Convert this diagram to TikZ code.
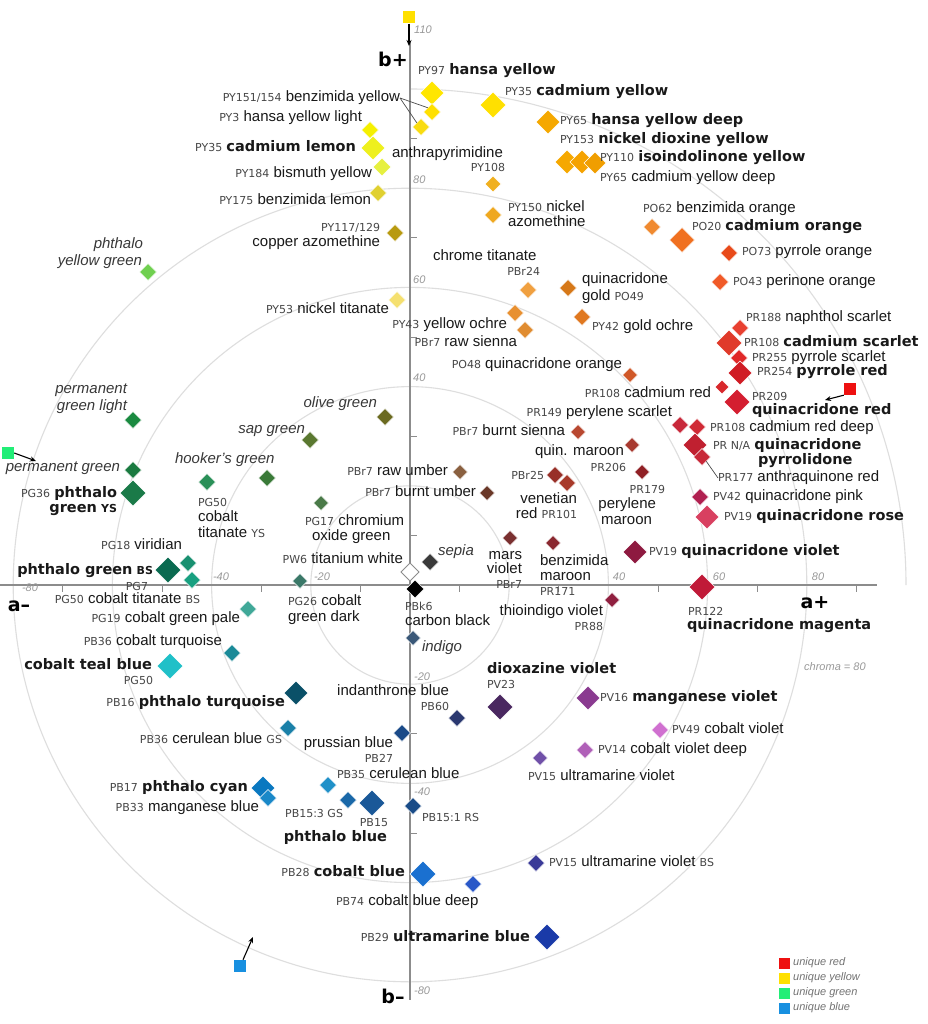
\documentclass[tikz,border=0pt]{standalone}
\usepackage{fontspec}
\setmainfont{Liberation Sans}
\newfontfamily\dvs{DejaVu Sans}
\usetikzlibrary{shapes.geometric,arrows.meta}
\newcommand\pcode[1]{{\dvs\fontsize{11}{12}\selectfont\color{black!72}#1}}
\newcommand\pbold[1]{{\dvs\bfseries\fontsize{14.5}{16}\selectfont #1}}
\newcommand\psmb[1]{{\dvs\bfseries\fontsize{11}{12}\selectfont #1}}
\newcommand\pdia[5]{\definecolor{c#1}{HTML}{#5}\node[dia, fill=c#1, minimum size=#4pt] (#1) at (#2,#3) {};}
\newcommand\plab[6][lab]{\node[#1, anchor=#5] (#2) at (#3,#4) {#6};}
\definecolor{uyel}{HTML}{FFE000}
\definecolor{ured}{HTML}{EE1010}
\definecolor{ugrn}{HTML}{22EE77}
\definecolor{ublu}{HTML}{1890E0}
\tikzset{
 dia/.style={diamond, shape aspect=1, inner sep=0pt, outer sep=0pt, draw=white, line width=0.5pt},
 lab/.style={inner sep=0pt, outer sep=0pt, text height=10.5pt, text depth=3pt, font=\fontsize{15}{17}\selectfont, text=black!90},
 ilab/.style={lab, font=\itshape\fontsize{15}{17}\selectfont, text=black!78},
 tlab/.style={inner sep=0pt, font=\itshape\fontsize{11}{12}\selectfont, text=black!40},
 axl/.style={inner sep=0pt, font=\dvs\bfseries\fontsize{19}{20}\selectfont},
 ring/.style={draw=black!13, line width=1.1pt},
 axisline/.style={draw=black!45, line width=1.2pt},
 tickmark/.style={draw=black!45, line width=1pt},
 leader/.style={draw=black!70, line width=0.7pt},
 uarrow/.style={draw=black, line width=1.1pt, -{Stealth[length=6pt,width=5pt]}},
 usq/.style={rectangle, inner sep=0pt, minimum size=12pt},
 lsq/.style={rectangle, inner sep=0pt, minimum size=11pt},
 leg/.style={inner sep=0pt, anchor=west, font=\itshape\fontsize{11}{12}\selectfont, text=black!55},
}
\begin{document}
\begin{tikzpicture}[x=1pt,y=-1pt]
\fill[white] (0,0) rectangle (927,1024);
\useasboundingbox (0,0) rectangle (927,1024);
% rings
\foreach \r in {99.2,198.4,297.6,396.8} \draw[ring] (410,585) circle[radius=\r];
\draw[ring] (906,585) arc[start angle=0, end angle=-90, radius=496];
% axes
\draw[axisline] (0,585) -- (877,585);
\draw[axisline] (410,42) -- (410,1000);
\foreach \k in {-7,-5,-3,-1,1,3,5,7,9} \draw[tickmark] ({410+4.96*\k*10},585) -- ++(0,7);
\foreach \k in {-7,-5,-3,-1,1,3,5,7,9} \draw[tickmark] (410,{585-4.96*\k*10}) -- ++(7,0);
% tick labels
\node[tlab, anchor=west] (k110) at (414,30) {110};
\node[tlab, anchor=west] (k80) at (413,180) {80};
\node[tlab, anchor=west] (k60) at (413,280) {60};
\node[tlab, anchor=west] (k40) at (413,378) {40};
\node[tlab, anchor=west] (km20) at (414,677) {-20};
\node[tlab, anchor=west] (km40) at (414,792) {-40};
\node[tlab, anchor=west] (km80) at (414,991) {-80};
\node[tlab] (hm80) at (30,588) {-80};
\node[tlab] (hm40) at (221,577) {-40};
\node[tlab] (hm20) at (322,577) {-20};
\node[tlab] (h40) at (619,577) {40};
\node[tlab] (h60) at (719,577) {60};
\node[tlab] (h80) at (818,577) {80};
\node[tlab, anchor=west] (chroma) at (804,667) {chroma = 80};
% axis labels
\node[axl] (bplus) at (393,59) {b+};
\node[axl] (bminus) at (393,996) {b–};
\node[axl] (aplus) at (815,603) {a+};
\node[axl] (aminus) at (19,606) {a–};
% ---------- diamonds ----------
% yellows
\pdia{dPYa}{432}{93}{24}{FFE600}
\pdia{dPYb}{432}{112}{17}{FFE000}
\pdia{dPYc}{421}{127}{17}{F9DC10}
\pdia{dPYd}{493}{105}{26}{FFE000}
\pdia{dPYe}{548}{122}{24}{F5A800}
\pdia{dPYf}{567}{162}{24}{F6A800}
\pdia{dPYg}{582}{162}{24}{F5A200}
\pdia{dPYh}{595}{163}{22}{F09E00}
\pdia{dPYi}{370}{130}{17}{F5F000}
\pdia{dPYj}{373}{148}{24}{EEF01E}
\pdia{dPYk}{382}{167}{18}{E6F040}
\pdia{dPYl}{378}{193}{17}{E0D030}
\pdia{dPYm}{493}{184}{16}{F0B020}
\pdia{dPYn}{493}{215}{17}{EFA820}
\pdia{dPYo}{395}{233}{17}{B89A10}
% oranges
\pdia{dPOa}{652}{227}{17}{F08A30}
\pdia{dPOb}{682}{240}{25}{F07020}
\pdia{dPOc}{729}{253}{17}{E84A1A}
\pdia{dPOd}{720}{282}{17}{F05A28}
\pdia{dPBra}{528}{290}{17}{F0A040}
\pdia{dPOe}{568}{288}{17}{D67818}
\pdia{dPYp}{515}{313}{17}{E89030}
\pdia{dPBrb}{525}{330}{17}{E08C30}
\pdia{dPYq}{582}{317}{17}{E07820}
\pdia{dPYr}{397}{300}{17}{F5E070}
\pdia{dPOf}{630}{375}{15}{D05828}
% reds
\pdia{dPRa}{740}{328}{17}{E84030}
\pdia{dPRb}{729}{343}{26}{E03A2A}
\pdia{dPRc}{739}{358}{17}{E02828}
\pdia{dPRd}{740}{373}{24}{D01C24}
\pdia{dPRe}{722}{387}{14}{D8282C}
\pdia{dPRf}{737}{402}{26}{D41E30}
\pdia{dPRg}{680}{425}{17}{C8283A}
\pdia{dPRh}{697}{427}{17}{D02A35}
\pdia{dPRi}{695}{445}{24}{C02030}
\pdia{dPRq}{702}{457}{17}{C82838}
\pdia{dPVa}{700}{497}{17}{B02050}
\pdia{dPVb}{707}{517}{24}{D84060}
\pdia{dPVc}{635}{552}{24}{8E1A40}
\pdia{dPRj}{702}{587}{26}{C01A38}
% earths
\pdia{dOlive}{385}{417}{17}{6B6A20}
\pdia{dPBrc}{578}{432}{15}{B84830}
\pdia{dPRk}{632}{445}{15}{A83A30}
\pdia{dPRl}{642}{472}{15}{902025}
\pdia{dPBrd}{555}{475}{17}{983028}
\pdia{dPRm}{567}{483}{17}{A83A2A}
\pdia{dPBre}{460}{472}{15}{8A6040}
\pdia{dPBrf}{487}{493}{15}{6A3828}
\pdia{dPBrg}{510}{538}{15}{7A3030}
\pdia{dPRn}{553}{543}{15}{8A2830}
\pdia{dPRo}{612}{600}{15}{902040}
\pdia{dSepia}{430}{562}{17}{3A3A3A}
\node[dia, fill=white, draw=black!45, line width=0.8pt, minimum size=18pt] (dPW) at (410,572) {};
\pdia{dPBk}{415}{589}{18}{000000}
\pdia{dIndigo}{413}{638}{15}{3A5878}
% violets and blues
\pdia{dPVd}{500}{707}{26}{4A2860}
\pdia{dPBa}{457}{718}{17}{2A3870}
\pdia{dPBb}{402}{733}{17}{1A4A88}
\pdia{dPVe}{588}{698}{24}{8A3A90}
\pdia{dPVf}{585}{750}{17}{B060B8}
\pdia{dPVg}{660}{730}{17}{D070D0}
\pdia{dPVh}{540}{758}{15}{7050A8}
\pdia{dPBc}{263}{788}{24}{0A78C0}
\pdia{dPBd}{268}{798}{17}{1A88C8}
\pdia{dPBe}{328}{785}{17}{2090C8}
\pdia{dPBf}{348}{800}{17}{1A68A8}
\pdia{dPBg}{372}{803}{26}{1A5898}
\pdia{dPBh}{413}{806}{17}{1A4C88}
\pdia{dPBi}{423}{874}{26}{1A70D0}
\pdia{dPBj}{473}{884}{17}{2A58C8}
\pdia{dPVi}{536}{863}{17}{3A3A98}
\pdia{dPBz}{547}{937}{26}{1A3AA8}
% greens and teals
\pdia{dPGa}{188}{563}{17}{189070}
\pdia{dPGb}{168}{570}{26}{0A6A50}
\pdia{dPGc}{192}{580}{17}{18A080}
\pdia{dPGd}{248}{609}{17}{40A898}
\pdia{dPBl}{232}{653}{17}{1A8A98}
\pdia{dPGe}{170}{666}{26}{20C0C8}
\pdia{dPBm}{296}{693}{24}{0A5068}
\pdia{dPBn}{288}{728}{17}{1A80A8}
\pdia{dPGf}{148}{272}{17}{70D050}
\pdia{dPGg}{133}{420}{17}{1A8A40}
\pdia{dPGh}{133}{470}{17}{1A7A40}
\pdia{dPGi}{133}{493}{26}{1A7A48}
\pdia{dPGj}{267}{478}{17}{3A7A38}
\pdia{dPGk}{207}{482}{17}{2A9058}
\pdia{dPGl}{310}{440}{17}{5A7830}
\pdia{dPGm}{321}{503}{15}{4A7A48}
\pdia{dPGn}{300}{581}{15}{3A7868}
% ---------- labels ----------
\plab{tPY97}{418}{71}{west}{\pcode{PY97} \pbold{hansa yellow}}
\plab{tPY35}{505}{92}{west}{\pcode{PY35} \pbold{cadmium yellow}}
\plab{tPY65}{560}{121}{west}{\pcode{PY65} \pbold{hansa yellow deep}}
\plab{tPY153}{560}{140}{west}{\pcode{PY153} \pbold{nickel dioxine yellow}}
\plab{tPY110}{600}{158}{west}{\pcode{PY110} \pbold{isoindolinone yellow}}
\plab{tPY65b}{600}{178}{west}{\pcode{PY65} cadmium yellow deep}
\plab{tPY151}{400}{98}{east}{\pcode{PY151/154} benzimida yellow}
\plab{tPY3}{362}{118}{east}{\pcode{PY3} hansa yellow light}
\plab{tPY35b}{356}{148}{east}{\pcode{PY35} \pbold{cadmium lemon}}
\plab{tPY184}{372}{174}{east}{\pcode{PY184} bismuth yellow}
\plab{tPY175}{371}{201}{east}{\pcode{PY175} benzimida lemon}
\plab{tAnth}{392}{154}{west}{anthrapyrimidine}
\plab{tPY108}{505}{168}{east}{\pcode{PY108}}
\plab{tPY150}{508}{208}{west}{\pcode{PY150} nickel}
\plab{tPY150b}{508}{223}{west}{azomethine}
\plab{tPY117}{380}{228}{east}{\pcode{PY117/129}}
\plab{tPY117b}{380}{243}{east}{copper azomethine}
\plab[ilab]{tPGf}{143}{245}{east}{phthalo}
\plab[ilab]{tPGfb}{142}{262}{east}{yellow green}
\plab{tPO62}{643}{209}{west}{\pcode{PO62} benzimida orange}
\plab{tPO20}{692}{227}{west}{\pcode{PO20} \pbold{cadmium orange}}
\plab{tPO73}{742}{252}{west}{\pcode{PO73} pyrrole orange}
\plab{tPO43}{733}{282}{west}{\pcode{PO43} perinone orange}
\plab{tChr}{433}{257}{west}{chrome titanate}
\plab{tPBr24}{540}{272}{east}{\pcode{PBr24}}
\plab{tPO49}{582}{280}{west}{quinacridone}
\plab{tPO49b}{582}{297}{west}{gold \pcode{PO49}}
\plab{tPY53}{389}{310}{east}{\pcode{PY53} nickel titanate}
\plab{tPY43}{507}{325}{east}{\pcode{PY43} yellow ochre}
\plab{tPBr7a}{517}{343}{east}{\pcode{PBr7} raw sienna}
\plab{tPY42}{592}{327}{west}{\pcode{PY42} gold ochre}
\plab{tPR188}{746}{318}{west}{\pcode{PR188} naphthol scarlet}
\plab{tPR108a}{744}{343}{west}{\pcode{PR108} \pbold{cadmium scarlet}}
\plab{tPR255}{752}{358}{west}{\pcode{PR255} pyrrole scarlet}
\plab{tPR254}{757}{372}{west}{\pcode{PR254} \pbold{pyrrole red}}
\plab{tPR209}{752}{397}{west}{\pcode{PR209}}
\plab{tPR209b}{752}{411}{west}{\pbold{quinacridone red}}
\plab{tPO48}{622}{365}{east}{\pcode{PO48} quinacridone orange}
\plab{tPR108b}{711}{394}{east}{\pcode{PR108} cadmium red}
\plab{tPR149}{672}{413}{east}{\pcode{PR149} perylene scarlet}
\plab{tPR108c}{710}{428}{west}{\pcode{PR108} cadmium red deep}
\plab{tPRNA}{713}{446}{west}{\pcode{PR N/A} \pbold{quinacridone}}
\plab{tPRNAb}{758}{461}{west}{\pbold{pyrrolidone}}
\plab{tPR177}{718}{478}{west}{\pcode{PR177} anthraquinone red}
\plab{tPV42}{713}{497}{west}{\pcode{PV42} quinacridone pink}
\plab{tPV19a}{724}{517}{west}{\pcode{PV19} \pbold{quinacridone rose}}
\plab{tPV19b}{649}{552}{west}{\pcode{PV19} \pbold{quinacridone violet}}
\plab{tPR122}{688}{612}{west}{\pcode{PR122}}
\plab{tPR122b}{687}{626}{west}{\pbold{quinacridone magenta}}
\plab[ilab]{tOlive}{377}{404}{east}{olive green}
\plab[ilab]{tSap}{305}{430}{east}{sap green}
\plab[ilab]{tHook}{175}{460}{west}{hooker's green}
\plab[ilab]{tPGg}{127}{390}{east}{permanent}
\plab[ilab]{tPGgb}{127}{407}{east}{green light}
\plab[ilab]{tPGh}{120}{468}{east}{permanent green}
\plab{tPG36}{117}{494}{east}{\pcode{PG36} \pbold{phthalo}}
\plab{tPG36b}{117}{509}{east}{\pbold{green} \psmb{YS}}
\plab{tPG50a}{198}{503}{west}{\pcode{PG50}}
\plab{tPG50b}{198}{518}{west}{cobalt}
\plab{tPG50c}{198}{534}{west}{titanate \pcode{YS}}
\plab{tPG17}{305}{522}{west}{\pcode{PG17} chromium}
\plab{tPG17b}{312}{537}{west}{oxide green}
\plab{tPW6}{403}{560}{east}{\pcode{PW6} titanium white}
\plab{tPG26}{288}{602}{west}{\pcode{PG26} cobalt}
\plab{tPG26b}{288}{618}{west}{green dark}
\plab[ilab]{tSepia}{438}{552}{west}{sepia}
\plab{tPBk}{405}{607}{west}{\pcode{PBk6}}
\plab{tPBkb}{405}{622}{west}{carbon black}
\plab[ilab]{tIndigo}{422}{648}{west}{indigo}
\plab{tMars}{522}{556}{east}{mars}
\plab{tMarsb}{522}{570}{east}{violet}
\plab{tMarsc}{522}{585}{east}{\pcode{PBr7}}
\plab{tPR171}{540}{562}{west}{benzimida}
\plab{tPR171b}{540}{577}{west}{maroon}
\plab{tPR171c}{540}{592}{west}{\pcode{PR171}}
\plab{tPR88}{603}{612}{east}{thioindigo violet}
\plab{tPR88b}{603}{627}{east}{\pcode{PR88}}
\plab{tBS}{565}{432}{east}{\pcode{PBr7} burnt sienna}
\plab{tQM}{535}{452}{west}{quin. maroon}
\plab{tQMb}{626}{468}{east}{\pcode{PR206}}
\plab{tPR179}{665}{490}{east}{\pcode{PR179}}
\plab{tPR179b}{656}{505}{east}{perylene}
\plab{tPR179c}{652}{521}{east}{maroon}
\plab{tPBr25}{544}{476}{east}{\pcode{PBr25}}
\plab{tVen}{577}{500}{east}{venetian}
\plab{tVenb}{577}{515}{east}{red \pcode{PR101}}
\plab{tRU}{448}{472}{east}{\pcode{PBr7} raw umber}
\plab{tBU}{476}{493}{east}{\pcode{PBr7} burnt umber}
\plab{tPG18}{182}{546}{east}{\pcode{PG18} viridian}
\plab{tPG7a}{153}{571}{east}{\pbold{phthalo green} \psmb{BS}}
\plab{tPG7b}{148}{587}{east}{\pcode{PG7}}
\plab{tPG50d}{200}{600}{east}{\pcode{PG50} cobalt titanate \pcode{BS}}
\plab{tPG19}{240}{619}{east}{\pcode{PG19} cobalt green pale}
\plab{tPB36a}{222}{642}{east}{\pcode{PB36} cobalt turquoise}
\plab{tPG50e}{152}{666}{east}{\pbold{cobalt teal blue}}
\plab{tPG50f}{153}{681}{east}{\pcode{PG50}}
\plab{tPB16}{285}{703}{east}{\pcode{PB16} \pbold{phthalo turquoise}}
\plab{tPB36b}{282}{740}{east}{\pcode{PB36} cerulean blue \pcode{GS}}
\plab{tPB17}{248}{788}{east}{\pcode{PB17} \pbold{phthalo cyan}}
\plab{tPB33}{259}{808}{east}{\pcode{PB33} manganese blue}
\plab{tPB27}{393}{744}{east}{prussian blue}
\plab{tPB27b}{393}{759}{east}{\pcode{PB27}}
\plab{tPB35}{337}{775}{west}{\pcode{PB35} cerulean blue}
\plab{tPB153}{343}{814}{east}{\pcode{PB15:3 GS}}
\plab{tPB15}{388}{823}{east}{\pcode{PB15}}
\plab{tPB15b}{387}{838}{east}{\pbold{phthalo blue}}
\plab{tPB151}{422}{818}{west}{\pcode{PB15:1 RS}}
\plab{tPB60}{449}{692}{east}{indanthrone blue}
\plab{tPB60b}{449}{707}{east}{\pcode{PB60}}
\plab{tPV23}{487}{670}{west}{\pbold{dioxazine violet}}
\plab{tPV23b}{487}{685}{west}{\pcode{PV23}}
\plab{tPV16}{600}{698}{west}{\pcode{PV16} \pbold{manganese violet}}
\plab{tPV49}{672}{730}{west}{\pcode{PV49} cobalt violet}
\plab{tPV14}{598}{750}{west}{\pcode{PV14} cobalt violet deep}
\plab{tPV15}{528}{777}{west}{\pcode{PV15} ultramarine violet}
\plab{tPV15b}{549}{863}{west}{\pcode{PV15} ultramarine violet \pcode{BS}}
\plab{tPB28}{405}{873}{east}{\pcode{PB28} \pbold{cobalt blue}}
\plab{tPB74}{336}{902}{west}{\pcode{PB74} cobalt blue deep}
\plab{tPB29}{530}{938}{east}{\pcode{PB29} \pbold{ultramarine blue}}
% leaders
\draw[leader] (tPY151.east) -- (dPYb.north west);
\draw[leader] (tPY151.east) -- (dPYc.north west);
\draw[leader] (tPR177.west) -- (dPRq.south east);
% unique hues
\node[usq, fill=uyel] (uy) at (409,17.5) {};
\coordinate (uyt) at (409,46);
\draw[uarrow] (uy.south) -- (uyt);
\node[usq, fill=ured] (ur) at (850,389) {};
\coordinate (urt) at (825,400);
\draw[uarrow] (ur.south west) -- (urt);
\node[usq, fill=ugrn] (ug) at (8,453) {};
\coordinate (ugt) at (36,461);
\draw[uarrow] (ug.east) -- (ugt);
\node[usq, fill=ublu] (ub) at (240,966) {};
\coordinate (ubt) at (253,937);
\draw[uarrow] ([xshift=3pt]ub.north) -- (ubt);
% legend
\node[lsq, fill=ured] (lr) at (784,963) {};
\node[lsq, fill=uyel] (ly) at (784,978) {};
\node[lsq, fill=ugrn] (lg) at (784,993) {};
\node[lsq, fill=ublu] (lb) at (784,1008) {};
\node[leg] (llr) at (793,963) {unique red};
\node[leg] (lly) at (793,978) {unique yellow};
\node[leg] (llg) at (793,993) {unique green};
\node[leg] (llb) at (793,1008) {unique blue};
\end{tikzpicture}
\end{document}
